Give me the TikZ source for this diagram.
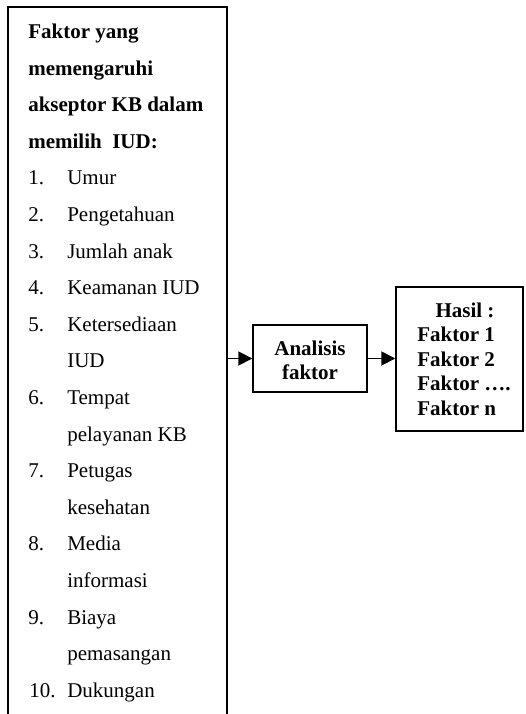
\documentclass[tikz,border=0pt]{standalone}
\usepackage{fontspec}
\setmainfont{Liberation Serif}
\usetikzlibrary{arrows.meta}
\begin{document}
\begin{tikzpicture}[x=0.75pt,y=-0.75pt,
  boxshape/.style={draw=black, line width=1.1pt, rectangle, inner sep=0pt},
  txt/.style={anchor=base west, inner sep=0pt, font=\fontsize{15.75}{18}\selectfont},
  btxt/.style={txt, font=\fontsize{15.75}{18}\selectfont\bfseries},
  arr/.style={line width=1.4pt, -{Triangle[length=10.5pt,width=10.5pt]}}]
\useasboundingbox (0,0) rectangle (525,714);
\clip (0,0) rectangle (525,714);
% boxes
\node[boxshape, minimum width=164.25pt, minimum height=549.75pt] (fac) at (117.5,373.5) {};
\node[boxshape, minimum width=85.5pt, minimum height=50.25pt] (an) at (310,358.5) {};
\node[boxshape, minimum width=95.25pt, minimum height=108pt] (res) at (459.5,359) {};
% heading
\node[btxt] (h1) at (28,38.5) {Faktor yang};
\node[btxt] (h2) at (28,75.1) {memengaruhi};
\node[btxt] (h3) at (28,111.7) {akseptor KB dalam};
\node[btxt] (h4) at (28,148.3) {memilih\ \ IUD:};
% list
\node[txt] (n1) at (28,184.9) {1.};   \node[txt] (t1) at (67,184.9) {Umur};
\node[txt] (n2) at (28,221.5) {2.};   \node[txt] (t2) at (67,221.5) {Pengetahuan};
\node[txt] (n3) at (28,258.1) {3.};   \node[txt] (t3) at (67,258.1) {Jumlah anak};
\node[txt] (n4) at (28,294.7) {4.};   \node[txt] (t4) at (67,294.7) {Keamanan IUD};
\node[txt] (n5) at (28,331.3) {5.};   \node[txt] (t5) at (67,331.3) {Ketersediaan};
\node[txt] (t5b) at (67,367.9) {IUD};
\node[txt] (n6) at (28,404.5) {6.};   \node[txt] (t6) at (67,404.5) {Tempat};
\node[txt] (t6b) at (67,441.1) {pelayanan KB};
\node[txt] (n7) at (28,477.7) {7.};   \node[txt] (t7) at (67,477.7) {Petugas};
\node[txt] (t7b) at (67,514.3) {kesehatan};
\node[txt] (n8) at (28,550.9) {8.};   \node[txt] (t8) at (67,550.9) {Media};
\node[txt] (t8b) at (67,587.5) {informasi};
\node[txt] (n9) at (28,624.1) {9.};   \node[txt] (t9) at (67,624.1) {Biaya};
\node[txt] (t9b) at (67,660.7) {pemasangan};
\node[txt] (n10) at (29,697.3) {10.}; \node[txt] (t10) at (67,697.3) {Dukungan};
% analysis text
\node[btxt, anchor=base] (a1) at (310,355) {Analisis};
\node[btxt, anchor=base] (a2) at (310,379) {faktor};
% result text
\node[btxt, anchor=base] (r0) at (465,317) {Hasil :};
\node[btxt] (r1) at (417,341.5) {Faktor 1};
\node[btxt] (r2) at (417,366) {Faktor 2};
\node[btxt] (r3) at (417,390.5) {Faktor ….};
\node[btxt] (r4) at (417,415) {Faktor n};
% arrows
\draw[arr] (an.west -| fac.east) -- (an.west);
\draw[arr] (an.east) -- (an.east -| res.west);
\end{tikzpicture}
\end{document}
